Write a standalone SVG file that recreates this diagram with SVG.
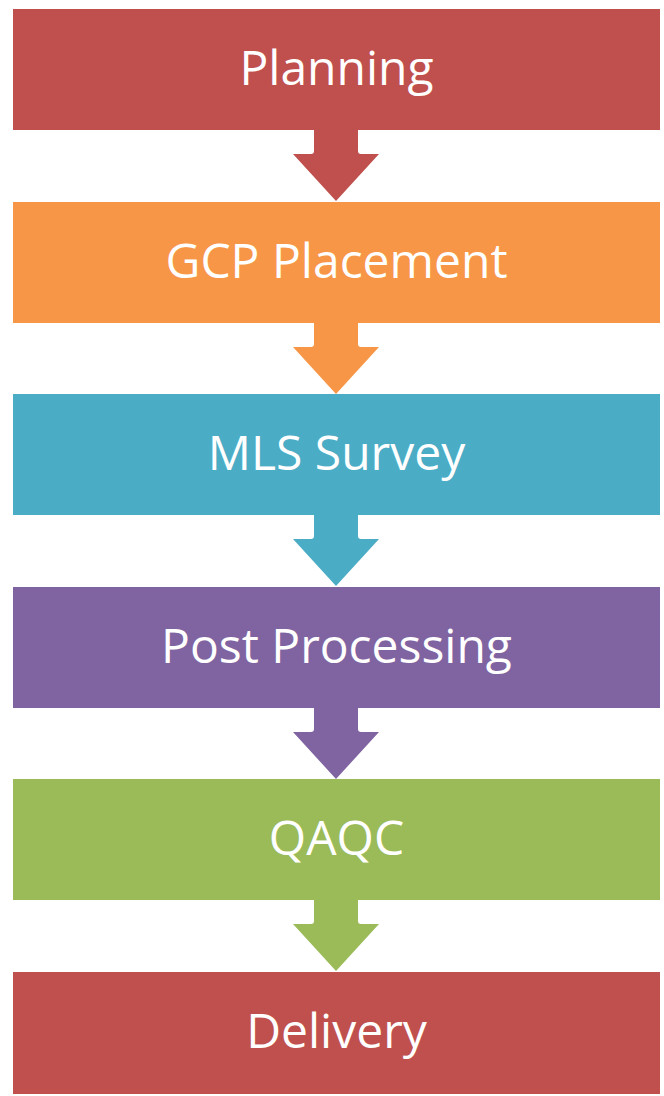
<svg xmlns="http://www.w3.org/2000/svg" width="664" height="1096" viewBox="0 0 664 1096">
  <defs>
    <style>
      .box { stroke: none; }
      .lbl { font-family: "Open Sans", "Liberation Sans", sans-serif; font-size: 48px; fill: #ffffff; text-anchor: middle; }
      .red { fill: #C0504D; }
      .orange { fill: #F79646; }
      .blue { fill: #4BACC6; }
      .purple { fill: #8064A2; }
      .green { fill: #9BBB59; }
    </style>
    <!-- down arrow: stem 44 wide, head 86 wide, starts at box bottom -->
    <path id="down" d="M-22,0 V22 Q-22,25 -25,25 H-43 L0,72 L43,25 H25 Q22,25 22,22 V0 Z"/>
  </defs>
  <rect width="664" height="1096" fill="#ffffff"/>

  <g id="connectors">
    <use href="#down" class="red" x="336" y="129"/>
    <use href="#down" class="orange" x="336" y="322"/>
    <use href="#down" class="blue" x="336" y="514"/>
    <use href="#down" class="purple" x="336" y="707"/>
    <use href="#down" class="green" x="336" y="899"/>
  </g>

  <g id="planning">
    <rect class="box red" x="13" y="9" width="647" height="121"/>
    <text class="lbl" x="336.5" y="84.5">Planning</text>
  </g>
  <g id="gcp-placement">
    <rect class="box orange" x="13" y="202" width="647" height="121"/>
    <text class="lbl" x="336.5" y="277.5">GCP Placement</text>
  </g>
  <g id="mls-survey">
    <rect class="box blue" x="13" y="394" width="647" height="121"/>
    <text class="lbl" x="336.5" y="469.5">MLS Survey</text>
  </g>
  <g id="post-processing">
    <rect class="box purple" x="13" y="587" width="647" height="121"/>
    <text class="lbl" x="336.5" y="662.5">Post Processing</text>
  </g>
  <g id="qaqc">
    <rect class="box green" x="13" y="779" width="647" height="121"/>
    <text class="lbl" x="336.5" y="854.5">QAQC</text>
  </g>
  <g id="delivery">
    <rect class="box red" x="13" y="972" width="647" height="122"/>
    <text class="lbl" x="336.5" y="1047.5">Delivery</text>
  </g>
</svg>
